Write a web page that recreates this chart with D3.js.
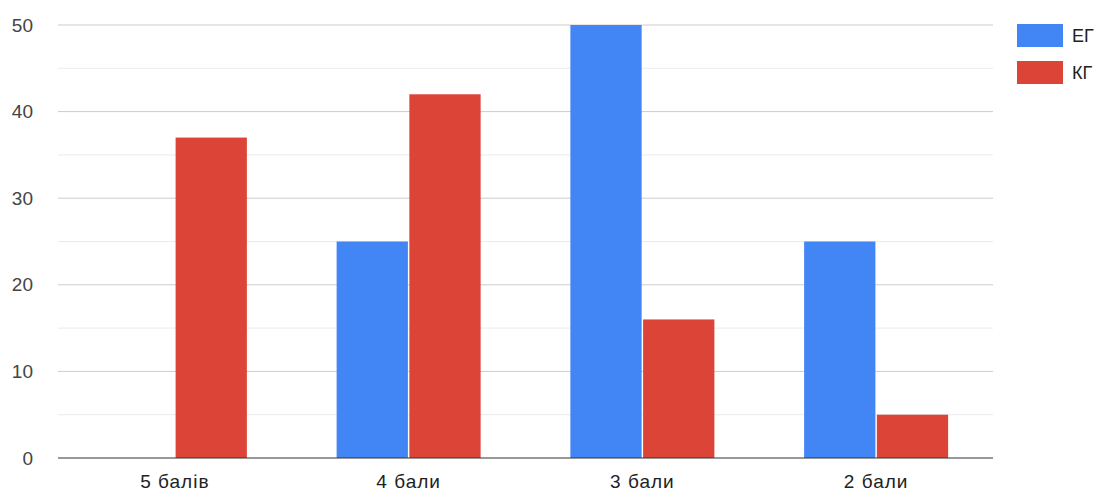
<!DOCTYPE html>
<html>
<head>
<meta charset="utf-8">
<script src="https://cdn.jsdelivr.net/npm/d3@7"></script>
<style>
  html, body { margin: 0; padding: 0; background: #fff; }
  svg { display: block; font-family: "Liberation Sans", Arial, sans-serif; }
</style>
</head>
<body>
<svg id="chart" width="1103" height="493"></svg>
<script>
// Score categories and group results (percent of students)
const categories = ["5 балів", "4 бали", "3 бали", "2 бали"];
const seriesNames = ["ЕГ", "КГ"];
const egValues = [0, 25, 50, 25];
const kgValues = [37, 42, 16, 5];
const yTicks = [0, 10, 20, 30, 40, 50];
const yMinorTicks = [5, 15, 25, 35, 45];
const colors = ["#4285f4", "#db4437"];

const svg = d3.select("#chart");

const x = d3.scaleBand()
  .domain(categories)
  .range([58, 993])
  .paddingInner(0)
  .paddingOuter(0);

const y = d3.scaleLinear()
  .domain([0, 50])
  .range([458, 25]);

const groupW = 144;
const xInner = d3.scaleBand()
  .domain(seriesNames)
  .range([0, groupW])
  .paddingInner(0.02);

const g = svg.append("g");

// minor gridlines
g.selectAll("line.minor").data(yMinorTicks).join("line")
  .attr("x1", x.range()[0]).attr("x2", x.range()[1])
  .attr("y1", d => y(d)).attr("y2", d => y(d))
  .attr("stroke", "#ebebeb").attr("stroke-width", 1);

// major gridlines
g.selectAll("line.major").data(yTicks.filter(d => d !== 0)).join("line")
  .attr("x1", x.range()[0]).attr("x2", x.range()[1])
  .attr("y1", d => y(d)).attr("y2", d => y(d))
  .attr("stroke", "#cccccc").attr("stroke-width", 1);

// y tick labels
g.selectAll("text.ytick").data(yTicks).join("text")
  .attr("x", 33)
  .attr("y", d => y(d))
  .attr("dy", "0.35em")
  .attr("text-anchor", "end")
  .attr("font-size", 19)
  .attr("fill", "#444")
  .text(d => d);

// bars
const rows = categories.map((c, i) => ({ cat: c, vals: [egValues[i], kgValues[i]] }));
const groups = g.selectAll("g.grp").data(rows).join("g")
  .attr("transform", d => `translate(${x(d.cat) + x.bandwidth() / 2 - groupW / 2},0)`);

groups.selectAll("rect").data(d => d.vals.map((v, j) => ({ name: seriesNames[j], v, j })))
  .join("rect")
  .attr("x", d => xInner(d.name))
  .attr("width", xInner.bandwidth())
  .attr("y", d => y(d.v))
  .attr("height", d => y(0) - y(d.v))
  .attr("fill", d => colors[d.j]);

// baseline
g.append("line")
  .attr("x1", x.range()[0]).attr("x2", x.range()[1])
  .attr("y1", y(0)).attr("y2", y(0))
  .attr("stroke", "#333").attr("stroke-width", 1.2);

// x labels
g.selectAll("text.xtick").data(categories).join("text")
  .attr("x", d => x(d) + x.bandwidth() / 2)
  .attr("y", 488)
  .attr("text-anchor", "middle")
  .attr("font-size", 19)
  .attr("letter-spacing", 1)
  .attr("fill", "#222")
  .text(d => d);

// legend
const legend = svg.append("g").attr("transform", "translate(1017,24)");
const li = legend.selectAll("g").data(seriesNames).join("g")
  .attr("transform", (d, i) => `translate(0,${i * 37})`);
li.append("rect").attr("width", 46).attr("height", 23).attr("fill", (d, i) => colors[i]);
li.append("text").attr("x", 55).attr("y", 12).attr("dy", "0.35em")
  .attr("font-size", 18).attr("fill", "#222").text(d => d);
</script>
</body>
</html>
